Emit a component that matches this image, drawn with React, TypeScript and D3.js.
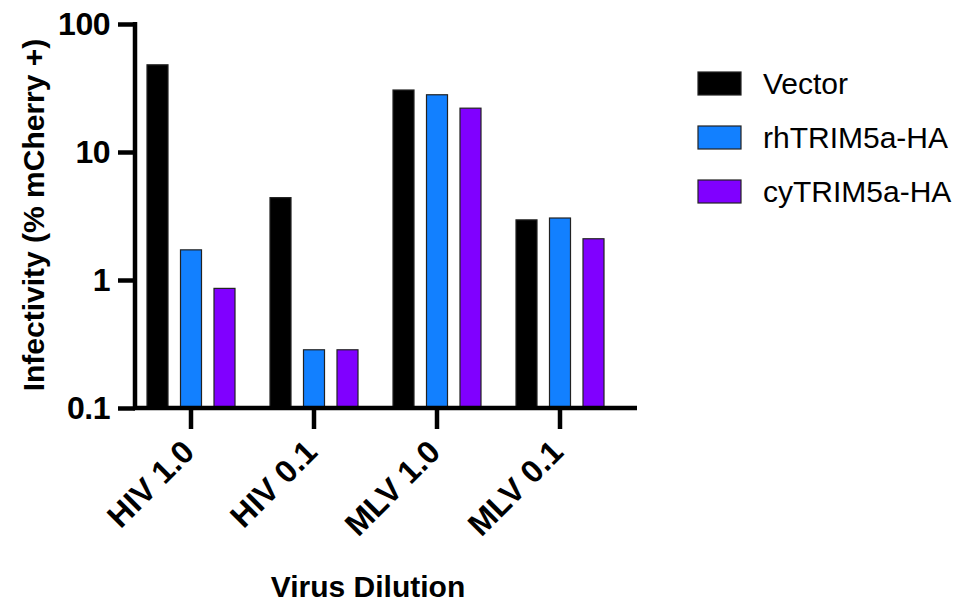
import * as React from "react"
import { select, scaleLog, scaleBand, axisLeft, axisBottom } from "d3"

const categories = ["HIV 1.0", "HIV 0.1", "MLV 1.0", "MLV 0.1"]
const seriesNames = ["Vector", "rhTRIM5a-HA", "cyTRIM5a-HA"]
const seriesColors = ["#000000", "#1280ff", "#8000ff"]
const vectorValues = [48, 4.4, 30.5, 2.95]
const rhValues = [1.72, 0.285, 28, 3.05]
const cyValues = [0.86, 0.285, 22, 2.1]
const yTicks = [0.1, 1, 10, 100]
const yTickLabels = ["0.1", "1", "10", "100"]

const FONT = "Arial, 'Liberation Sans', Helvetica, sans-serif"

function App() {
  const svgRef = React.useRef<SVGSVGElement>(null)

  const width = 965
  const height = 604
  const axisX = 135
  const axisY = 408
  const axisRight = 637

  const makeChart = () => {
    const svg = select(svgRef.current)
    svg.selectAll("*").remove()

    const values = [vectorValues, rhValues, cyValues]

    const y = scaleLog().domain([0.1, 100]).range([axisY, 24])

    const x = scaleBand().domain(categories).range([129.5, 621.5])

    const inner = scaleBand()
      .domain(seriesNames)
      .range([-50.25, 50.25])
      .paddingInner(0.373)
      .paddingOuter(0.1865)

    // bars
    seriesNames.forEach((name, si) => {
      svg
        .append("g")
        .selectAll("rect")
        .data(values[si])
        .join("rect")
        .attr("x", (d, i) => x(categories[i])! + x.bandwidth() / 2 + inner(name)!)
        .attr("y", (d) => y(d))
        .attr("width", inner.bandwidth())
        .attr("height", (d) => axisY - y(d))
        .attr("fill", seriesColors[si])
        .attr("stroke", "#222")
        .attr("stroke-width", 1.2)
    })

    // y axis
    const yAxis = svg
      .append("g")
      .attr("transform", `translate(${axisX}, 0)`)
      .call(
        axisLeft(y)
          .tickValues(yTicks)
          .tickFormat((d, i) => yTickLabels[i])
          .tickSize(17)
          .tickSizeOuter(0)
          .tickPadding(8)
      )
    yAxis.select(".domain").attr("stroke", "#000").attr("stroke-width", 4.5)
      .attr("d", `M0,${axisY + 2}V22`)
    yAxis.selectAll(".tick line").attr("stroke", "#000").attr("stroke-width", 4.5)
    yAxis
      .selectAll(".tick text")
      .attr("fill", "#000")
      .style("font-family", FONT)
      .style("font-weight", "bold")
      .style("font-size", "32px")
      .style("letter-spacing", "-0.5px")

    // x axis
    const xAxis = svg
      .append("g")
      .attr("transform", `translate(0, ${axisY})`)
      .call(axisBottom(x).tickSize(21).tickSizeOuter(0))
    xAxis.select(".domain").attr("stroke", "#000").attr("stroke-width", 4.5)
      .attr("d", `M${axisX - 2},0H${axisRight}`)
    xAxis.selectAll(".tick line").attr("stroke", "#000").attr("stroke-width", 4.5)
    xAxis
      .selectAll(".tick text")
      .attr("fill", "#000")
      .attr("text-anchor", "end")
      .attr("x", 0)
      .attr("y", 0)
      .attr("dy", null)
      .attr("transform", "translate(5, 46) rotate(-45)")
      .style("font-family", FONT)
      .style("font-weight", "bold")
      .style("font-size", "32px")

    // axis titles
    svg
      .append("text")
      .attr("transform", `translate(44, ${(axisY + 24) / 2 - 1}) rotate(-90)`)
      .attr("text-anchor", "middle")
      .style("font-family", FONT)
      .style("font-weight", "bold")
      .style("font-size", "30px")
      .text("Infectivity (% mCherry +)")

    svg
      .append("text")
      .attr("x", 368)
      .attr("y", 597)
      .attr("text-anchor", "middle")
      .style("font-family", FONT)
      .style("font-weight", "bold")
      .style("font-size", "30px")
      .text("Virus Dilution")

    // legend
    const legend = svg
      .append("g")
      .selectAll("g")
      .data(seriesNames)
      .join("g")
      .attr("transform", (d, i) => `translate(698, ${72 + i * 54})`)
    legend
      .append("rect")
      .attr("width", 43)
      .attr("height", 23)
      .attr("fill", (d, i) => seriesColors[i])
      .attr("stroke", "#222")
      .attr("stroke-width", 1.2)
    legend
      .append("text")
      .attr("x", 65)
      .attr("y", 22)
      .style("font-family", FONT)
      .style("font-size", "30px")
      .attr("fill", "#000")
      .text((d) => d)

    return svg.node()
  }

  React.useEffect(() => {
    makeChart()
  }, [])

  return (
    <svg
      ref={svgRef}
      width={width}
      height={height}
      style={{ position: "absolute", left: 0, top: 0, background: "#fff" }}
    ></svg>
  )
}

export default App
